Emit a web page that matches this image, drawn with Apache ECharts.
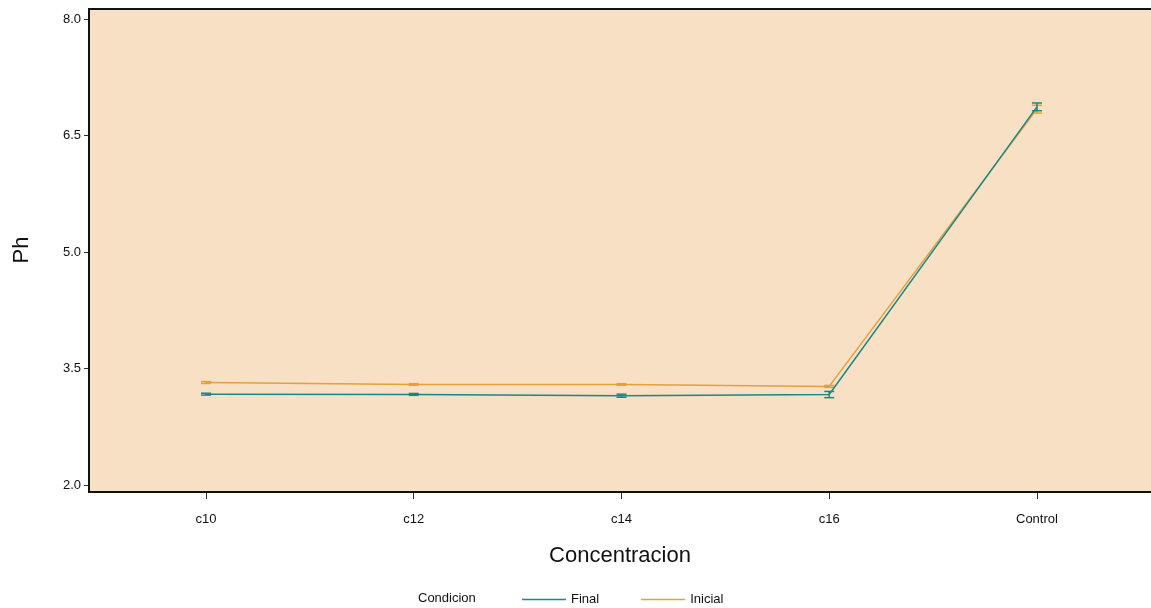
<!DOCTYPE html>
<html>
<head>
<meta charset="utf-8">
<script src="https://cdn.jsdelivr.net/npm/echarts@6/dist/echarts.min.js"></script>
<style>
  html, body { margin: 0; padding: 0; background: #ffffff; }
  #chart { width: 1151px; height: 608px; }
</style>
</head>
<body>
<div id="chart"></div>
<script>
// pH by concentration, initial vs final measurement (mean ± error)
const categories = ['c10', 'c12', 'c14', 'c16', 'Control'];
const yTicks = [2.0, 3.5, 5.0, 6.5, 8.0];

const finalMean = [3.17, 3.167, 3.15, 3.165, 6.87];
const finalErr  = [0.012, 0.012, 0.02, 0.04, 0.05];
const inicialMean = [3.32, 3.295, 3.295, 3.27, 6.84];
const inicialErr  = [0.012, 0.01, 0.01, 0.012, 0.05];

const teal = '#17898a';
const orange = '#e2a040';
const font = 'Liberation Sans, Arial, sans-serif';

// panel geometry (pixels)
const panel = { left: 89, top: 9, right: 1151, bottom: 492 };

function pts(arr) { return arr.map((v, i) => [i + 1, v]); }
function bars(mean, err) { return mean.map((v, i) => [i + 1, v - err[i], v + err[i]]); }

function errorBar(color) {
  return function (params, api) {
    const x = api.value(0);
    const lo = api.coord([x, api.value(1)]);
    const hi = api.coord([x, api.value(2)]);
    const half = 5;
    const style = { stroke: color, lineWidth: 1.5, fill: null };
    return {
      type: 'group',
      children: [
        { type: 'line', shape: { x1: lo[0], y1: lo[1], x2: hi[0], y2: hi[1] }, style },
        { type: 'line', shape: { x1: lo[0] - half, y1: lo[1], x2: lo[0] + half, y2: lo[1] }, style },
        { type: 'line', shape: { x1: hi[0] - half, y1: hi[1], x2: hi[0] + half, y2: hi[1] }, style }
      ]
    };
  };
}

const frameStyle = { stroke: '#111111', lineWidth: 2 };

const chart = echarts.init(document.getElementById('chart'), null, { renderer: 'canvas' });
chart.setOption({
  animation: false,
  backgroundColor: '#ffffff',
  grid: {
    left: panel.left, top: panel.top, right: 1151 - panel.right, bottom: 608 - panel.bottom,
    show: true, backgroundColor: '#f7e0c3', borderWidth: 0
  },
  xAxis: {
    type: 'value', min: 0.437, max: 5.549,
    axisLine: { show: false },
    splitLine: { show: false },
    axisTick: { show: true, customValues: [1, 2, 3, 4, 5], length: 7, lineStyle: { color: '#333', width: 1 } },
    axisLabel: {
      customValues: [1, 2, 3, 4, 5], margin: 21,
      fontFamily: font, fontSize: 13, color: '#111',
      formatter: v => categories[Math.round(v) - 1] || ''
    }
  },
  yAxis: {
    type: 'value', min: 1.91, max: 8.13,
    axisLine: { show: false },
    splitLine: { show: false },
    axisTick: { show: true, customValues: yTicks, length: 5, lineStyle: { color: '#333', width: 1 } },
    axisLabel: {
      customValues: yTicks, margin: 8,
      fontFamily: font, fontSize: 13, color: '#111',
      formatter: v => Number(v).toFixed(1)
    }
  },
  legend: {
    data: [{ name: 'Final', icon: 'rect' }, { name: 'Inicial', icon: 'rect' }],
    left: 517, top: 588,
    itemWidth: 44, itemHeight: 1.5, itemGap: 42,
    textStyle: { fontFamily: font, fontSize: 13, color: '#111' }
  },
  graphic: [
    // panel frame: left, top and bottom edges
    { type: 'polyline', z: 10, shape: { points: [[panel.right + 2, panel.top], [panel.left, panel.top], [panel.left, panel.bottom], [panel.right + 2, panel.bottom]] }, style: Object.assign({ fill: null }, frameStyle) },
    { type: 'text', left: 418, top: 592, style: { text: 'Condicion', font: '13px ' + font, fill: '#111' } },
    { type: 'text', x: 620, y: 556, style: { text: 'Concentracion', font: '22px ' + font, fill: '#111', align: 'center', verticalAlign: 'middle' } },
    { type: 'text', x: 22, y: 250, rotation: Math.PI / 2, style: { text: 'Ph', font: '22px ' + font, fill: '#111', align: 'center', verticalAlign: 'middle' } }
  ],
  series: [
    {
      name: 'Final', type: 'line', data: pts(finalMean), symbol: 'none',
      lineStyle: { color: teal, width: 1.5 }, itemStyle: { color: teal }, z: 3
    },
    {
      name: 'Inicial', type: 'line', data: pts(inicialMean), symbol: 'none',
      lineStyle: { color: orange, width: 1.5 }, itemStyle: { color: orange }, z: 2
    },
    { type: 'custom', data: bars(finalMean, finalErr), renderItem: errorBar(teal), z: 4, silent: true },
    { type: 'custom', data: bars(inicialMean, inicialErr), renderItem: errorBar(orange), z: 3, silent: true }
  ]
});
</script>
</body>
</html>
